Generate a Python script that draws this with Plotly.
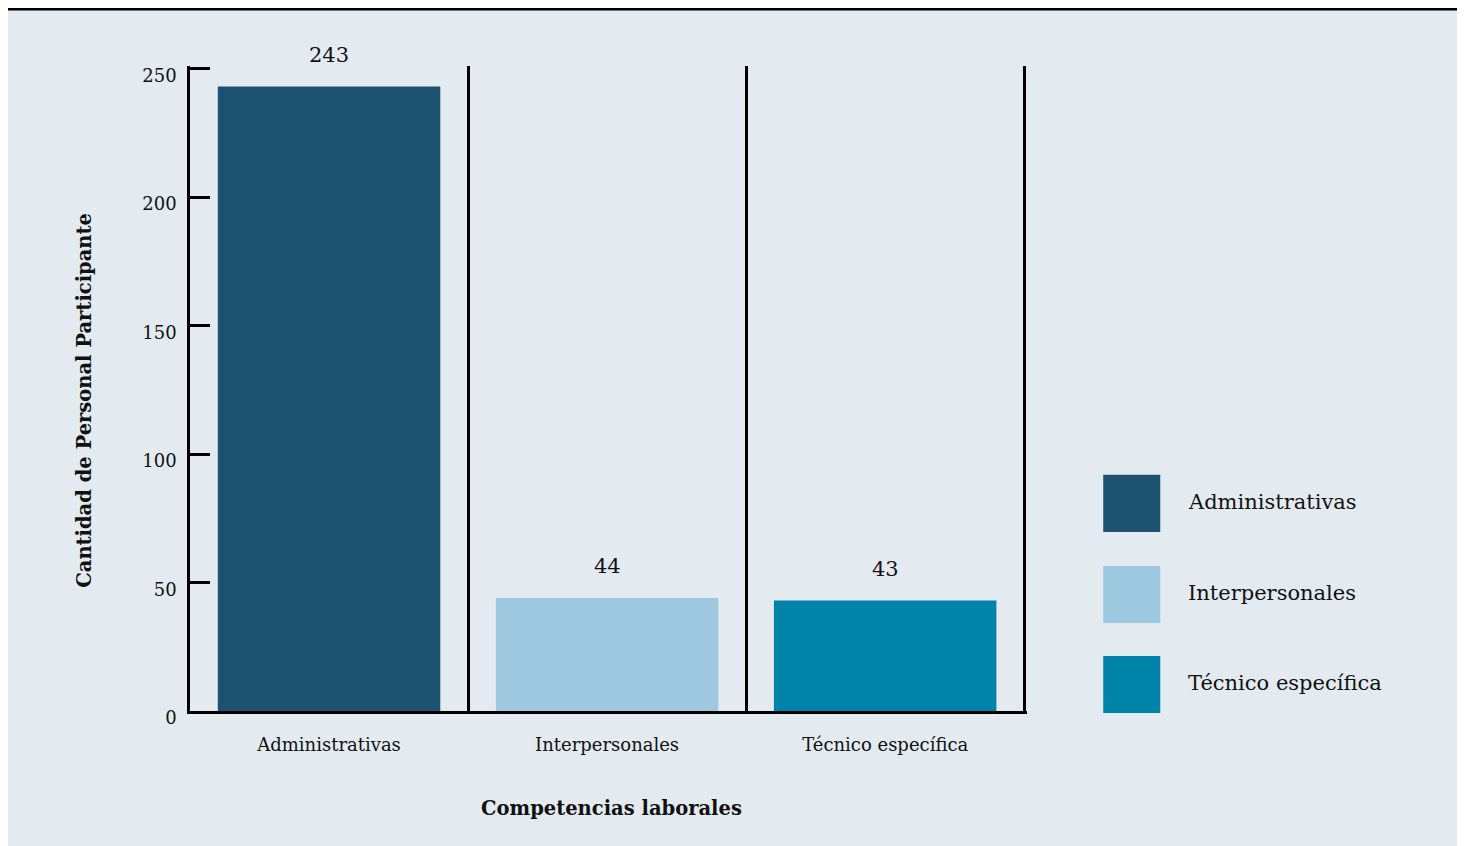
import plotly.graph_objects as go

categories = ["Administrativas", "Interpersonales", "Técnico específica"]
values = [243, 44, 43]
colors = ["#1d5170", "#9dc8e0", "#0083a9"]
y_ticks = [0, 50, 100, 150, 200, 250]

FONT = "DejaVu Serif"
OFF = 8  # page offset of the figure (body margin)
W, H = 1465 - OFF, 846 - OFF

# target page pixels for data extremes
X_LEFT, X_RIGHT = 190, 1024      # category boundaries -0.5 and 2.5
Y_ZERO, Y_250 = 711, 69
CAT_PX = (X_RIGHT - X_LEFT) / 3
VAL_PX = (Y_ZERO - Y_250) / 250
X_RANGE = [-0.5, 2.51]
Y_RANGE = [0, 251]

plot_left = X_LEFT
plot_right = X_RIGHT + (X_RANGE[1] - 2.5) * CAT_PX
plot_bottom = Y_ZERO
plot_top = Y_ZERO - Y_RANGE[1] * VAL_PX

L = plot_left - OFF
R = W - (plot_right - OFF)
T = plot_top - OFF
B = H - (plot_bottom - OFF)
PW, PH = W - L - R, H - T - B


def px_x(p):
    return (p - OFF - L) / PW


def px_y(p):
    return (H - B - (p - OFF)) / PH


fig = go.Figure()
fig.add_trace(go.Bar(
    x=categories, y=values, marker=dict(color=colors, line=dict(width=0)),
    showlegend=False, hoverinfo="x+y",
))

shapes = [
    # panel background
    dict(type="rect", xref="paper", yref="paper", x0=px_x(0), x1=px_x(1458),
         y0=px_y(850), y1=px_y(8), fillcolor="#e3ebf1", line=dict(width=0), layer="below"),
    # top rule
    dict(type="line", xref="paper", yref="paper", x0=px_x(0), x1=px_x(1458),
         y0=px_y(9.5), y1=px_y(9.5), line=dict(color="#000000", width=3)),
]
annotations = []

for c, v in zip(categories, values):
    annotations.append(dict(x=c, y=v, xref="x", yref="y", text=str(v), showarrow=False,
                            yanchor="middle", yshift=32,
                            font=dict(family=FONT, size=21, color="#111111")))

# manual legend
leg_tops = [475, 566, 656]
for c, col, top in zip(categories, colors, leg_tops):
    shapes.append(dict(type="rect", xref="paper", yref="paper",
                       x0=px_x(1103), x1=px_x(1160), y0=px_y(top + 57), y1=px_y(top),
                       fillcolor=col, line=dict(width=0)))
    annotations.append(dict(x=px_x(1186), y=px_y(top + 27), xref="paper", yref="paper",
                            text=c, showarrow=False, xanchor="left", yanchor="middle",
                            font=dict(family=FONT, size=21, color="#111111")))

# axis titles
annotations.append(dict(x=px_x(611), y=px_y(808), xref="paper", yref="paper",
                        text="<b>Competencias laborales</b>", showarrow=False,
                        xanchor="center", yanchor="middle",
                        font=dict(family=FONT, size=19.5, color="#111111")))
annotations.append(dict(x=px_x(85), y=px_y(400), xref="paper", yref="paper",
                        text="<b>Cantidad de Personal Participante</b>", showarrow=False,
                        xanchor="center", yanchor="middle", textangle=-90,
                        font=dict(family=FONT, size=19.5, color="#111111")))

fig.update_layout(
    width=W, height=H,
    margin=dict(l=L, r=R, t=T, b=B, pad=0),
    paper_bgcolor="#ffffff",
    plot_bgcolor="rgba(0,0,0,0)",
    bargap=0.2,
    font=dict(family=FONT, color="#111111"),
    shapes=shapes,
    annotations=annotations,
    xaxis=dict(
        type="category", tickson="boundaries", ticks="",
        range=X_RANGE,
        showgrid=True, gridcolor="#000000", gridwidth=2.5,
        showline=True, linecolor="#000000", linewidth=2.5,
        tickfont=dict(family=FONT, size=18, color="#111111"),
        ticklabelstandoff=16,
    ),
    yaxis=dict(
        range=Y_RANGE, tickvals=y_ticks, ticks="inside", ticklen=20, tickwidth=2.5,
        tickcolor="#000000", showgrid=False, zeroline=False,
        showline=True, linecolor="#000000", linewidth=2.5,
        tickfont=dict(family=FONT, size=18, color="#111111"),
        ticklabelstandoff=7, ticklabelshift=7,
    ),
)

fig.write_html("out.html")
